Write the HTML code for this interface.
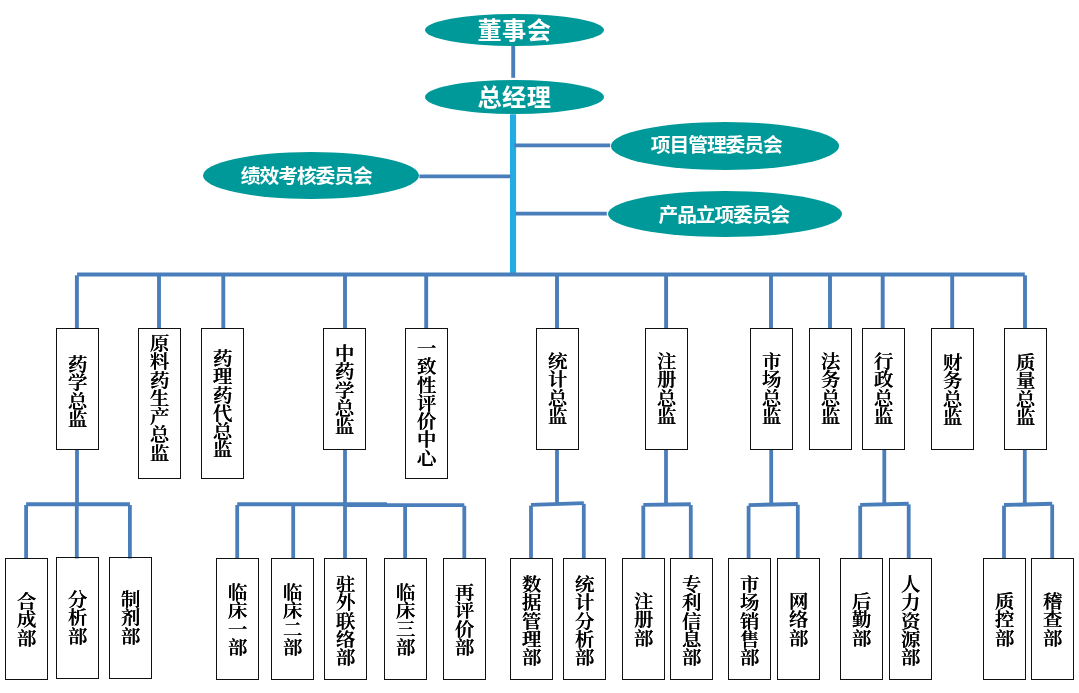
<!DOCTYPE html>
<html lang="zh-CN">
<head>
<meta charset="utf-8">
<title>组织架构图</title>
<style>
html,body{margin:0;padding:0;background:#fff;}
body{width:1079px;height:693px;position:relative;overflow:hidden;}
svg{position:absolute;left:0;top:0;}
.b{position:absolute;box-sizing:border-box;border:1px solid #111;background:transparent;will-change:transform;
 display:flex;align-items:center;justify-content:center;
 font-family:"Liberation Serif","Noto Serif CJK SC",serif;font-weight:600;font-size:18.25px;color:#000;text-shadow:0.3px 0 0 #000;}
.b span{position:relative;left:-2.8px;transform:scaleX(1.07);writing-mode:vertical-rl;text-orientation:upright;line-height:1;letter-spacing:0;white-space:nowrap;}
.e{position:absolute;display:flex;align-items:center;justify-content:center;border-radius:50%;background:#009999;
 color:#fff;font-family:"Liberation Sans","Noto Sans CJK SC",sans-serif;font-weight:700;white-space:nowrap;will-change:transform;}
.e span{position:relative;}
</style>
</head>
<body>

<svg width="1079" height="693" viewBox="0 0 1079 693">
<line x1="513.2" y1="46" x2="513.2" y2="77.8" stroke="#4A7EBB" stroke-width="3.9"/>
<line x1="513.05" y1="114.2" x2="513.05" y2="274.4" stroke="#21ADE4" stroke-width="6.1"/>
<line x1="419.4" y1="176.4" x2="510.5" y2="176.4" stroke="#4A7EBB" stroke-width="3.7"/>
<line x1="514.2" y1="145.4" x2="610.2" y2="145.4" stroke="#4A7EBB" stroke-width="3.7"/>
<line x1="515.7" y1="213.7" x2="606.8" y2="213.7" stroke="#4A7EBB" stroke-width="3.7"/>
<line x1="77.1" y1="274.4" x2="1024.8" y2="274.4" stroke="#4A7EBB" stroke-width="4"/>
<line x1="76.9" y1="275.3" x2="76.9" y2="328" stroke="#4A7EBB" stroke-width="3.9"/>
<line x1="159" y1="274.4" x2="159" y2="328" stroke="#4A7EBB" stroke-width="3.9"/>
<line x1="223.3" y1="274.4" x2="223.3" y2="328" stroke="#4A7EBB" stroke-width="3.9"/>
<line x1="345" y1="274.4" x2="345" y2="328" stroke="#4A7EBB" stroke-width="3.9"/>
<line x1="426.2" y1="274.4" x2="426.2" y2="328" stroke="#4A7EBB" stroke-width="3.9"/>
<line x1="557" y1="274.4" x2="557" y2="328" stroke="#4A7EBB" stroke-width="3.9"/>
<line x1="666.1" y1="274.4" x2="666.1" y2="328" stroke="#4A7EBB" stroke-width="3.9"/>
<line x1="771" y1="274.4" x2="771" y2="328" stroke="#4A7EBB" stroke-width="3.9"/>
<line x1="830" y1="274.4" x2="830" y2="328" stroke="#4A7EBB" stroke-width="3.9"/>
<line x1="882.7" y1="274.4" x2="882.7" y2="328" stroke="#4A7EBB" stroke-width="3.9"/>
<line x1="952.2" y1="274.4" x2="952.2" y2="328" stroke="#4A7EBB" stroke-width="3.9"/>
<line x1="1025" y1="275.3" x2="1025" y2="328" stroke="#4A7EBB" stroke-width="3.9"/>
<line x1="77" y1="449.5" x2="77" y2="505.3" stroke="#4A7EBB" stroke-width="3.8"/>
<line x1="26.1" y1="504.3" x2="129.9" y2="504.3" stroke="#4A7EBB" stroke-width="3.9"/>
<line x1="26.1" y1="505" x2="26.1" y2="558.5" stroke="#4A7EBB" stroke-width="3.8"/>
<line x1="76.8" y1="504.3" x2="76.8" y2="558.5" stroke="#4A7EBB" stroke-width="3.8"/>
<line x1="129.9" y1="505" x2="129.9" y2="558.5" stroke="#4A7EBB" stroke-width="3.8"/>
<line x1="345" y1="449.5" x2="345" y2="505.68" stroke="#4A7EBB" stroke-width="3.8"/>
<line x1="237.2" y1="504.3" x2="387" y2="504.3" stroke="#4A7EBB" stroke-width="3.9"/>
<line x1="345" y1="505.1" x2="464.3" y2="505.1" stroke="#4A7EBB" stroke-width="3.9"/>
<line x1="237.2" y1="505" x2="237.2" y2="558.5" stroke="#4A7EBB" stroke-width="3.8"/>
<line x1="293.2" y1="504.3" x2="293.2" y2="558.5" stroke="#4A7EBB" stroke-width="3.8"/>
<line x1="345" y1="504.3" x2="345" y2="558.5" stroke="#4A7EBB" stroke-width="3.8"/>
<line x1="405.1" y1="505.1" x2="405.1" y2="558.5" stroke="#4A7EBB" stroke-width="3.8"/>
<line x1="464.3" y1="505.8" x2="464.3" y2="558.5" stroke="#4A7EBB" stroke-width="3.8"/>
<line x1="557" y1="449.5" x2="557" y2="505.014" stroke="#4A7EBB" stroke-width="3.8"/>
<line x1="531" y1="504.9" x2="583.8" y2="503.1" stroke="#4A7EBB" stroke-width="3.9"/>
<line x1="531" y1="505.6" x2="531" y2="558.5" stroke="#4A7EBB" stroke-width="3.8"/>
<line x1="583.8" y1="503.8" x2="583.8" y2="558.5" stroke="#4A7EBB" stroke-width="3.8"/>
<line x1="666" y1="449.5" x2="666" y2="505.613" stroke="#4A7EBB" stroke-width="3.8"/>
<line x1="643.3" y1="504.9" x2="690.8" y2="504.3" stroke="#4A7EBB" stroke-width="3.9"/>
<line x1="643.3" y1="505.6" x2="643.3" y2="558.5" stroke="#4A7EBB" stroke-width="3.8"/>
<line x1="690.8" y1="505" x2="690.8" y2="558.5" stroke="#4A7EBB" stroke-width="3.8"/>
<line x1="771.2" y1="449.5" x2="771.2" y2="505.595" stroke="#4A7EBB" stroke-width="3.8"/>
<line x1="748.6" y1="505.1" x2="797.8" y2="504" stroke="#4A7EBB" stroke-width="3.9"/>
<line x1="748.6" y1="505.8" x2="748.6" y2="558.5" stroke="#4A7EBB" stroke-width="3.8"/>
<line x1="797.8" y1="504.7" x2="797.8" y2="558.5" stroke="#4A7EBB" stroke-width="3.8"/>
<line x1="884.3" y1="449.5" x2="884.3" y2="505.304" stroke="#4A7EBB" stroke-width="3.8"/>
<line x1="860.2" y1="504.9" x2="908.7" y2="503.7" stroke="#4A7EBB" stroke-width="3.9"/>
<line x1="860.2" y1="505.6" x2="860.2" y2="558.5" stroke="#4A7EBB" stroke-width="3.8"/>
<line x1="908.7" y1="504.4" x2="908.7" y2="558.5" stroke="#4A7EBB" stroke-width="3.8"/>
<line x1="1024.8" y1="449.5" x2="1024.8" y2="505.482" stroke="#4A7EBB" stroke-width="3.8"/>
<line x1="1004" y1="505" x2="1052.2" y2="503.8" stroke="#4A7EBB" stroke-width="3.9"/>
<line x1="1004" y1="505.7" x2="1004" y2="558.5" stroke="#4A7EBB" stroke-width="3.8"/>
<line x1="1052.2" y1="504.5" x2="1052.2" y2="558.5" stroke="#4A7EBB" stroke-width="3.8"/>
</svg>
<div class="e" style="left:424.9px;top:14.1px;width:178.5px;height:32.4px;font-size:24.2px;letter-spacing:0.5px"><span style="left:0.2px;top:-1.5px">董事会</span></div>
<div class="e" style="left:424.9px;top:79.5px;width:178.5px;height:33.8px;font-size:24.2px;letter-spacing:0.5px"><span style="left:0.2px;top:-1.5px">总经理</span></div>
<div class="e" style="left:202.7px;top:151.7px;width:215.8px;height:47.2px;font-size:19.8px;letter-spacing:-1.1px"><span style="left:-4.65px;top:-1.4px">绩效考核委员会</span></div>
<div class="e" style="left:610.65px;top:121.6px;width:228px;height:47.6px;font-size:19.8px;letter-spacing:-1.1px"><span style="left:-8.75px;top:-2px">项目管理委员会</span></div>
<div class="e" style="left:608.25px;top:191.1px;width:234px;height:46.4px;font-size:19.8px;letter-spacing:-1.1px"><span style="left:-1.15px;top:-1px">产品立项委员会</span></div>
<div class="b" style="left:56px;top:328px;width:43px;height:122px"><span style="top:2.6px">药学总监</span></div>
<div class="b" style="left:138px;top:328px;width:43px;height:151px"><span style="top:-6px">原料药生产总监</span></div>
<div class="b" style="left:201px;top:328px;width:43px;height:151px"><span style="top:0.5px">药理药代总监</span></div>
<div class="b" style="left:323px;top:328px;width:43px;height:122px"><span style="top:0.3px">中药学总监</span></div>
<div class="b" style="left:405px;top:328px;width:43px;height:151px"><span style="top:-1px">一致性评价中心</span></div>
<div class="b" style="left:536px;top:328px;width:43px;height:122px"><span style="top:-0.8px">统计总监</span></div>
<div class="b" style="left:645px;top:328px;width:43px;height:122px"><span style="top:-1px">注册总监</span></div>
<div class="b" style="left:750px;top:328px;width:43px;height:122px"><span style="top:-0.5px">市场总监</span></div>
<div class="b" style="left:809px;top:328px;width:43px;height:122px"><span style="top:-0.5px">法务总监</span></div>
<div class="b" style="left:862px;top:328px;width:43px;height:122px"><span style="top:-1px">行政总监</span></div>
<div class="b" style="left:931px;top:328px;width:43px;height:122px"><span style="top:0px">财务总监</span></div>
<div class="b" style="left:1004px;top:328px;width:43px;height:122px"><span style="top:0.5px">质量总监</span></div>
<div class="b" style="left:5px;top:558px;width:43px;height:122px"><span style="top:0.2px">合成部</span></div>
<div class="b" style="left:56px;top:557px;width:43px;height:122px"><span style="top:-0.8px">分析部</span></div>
<div class="b" style="left:109px;top:557px;width:43px;height:122px"><span style="top:-0.8px">制剂部</span></div>
<div class="b" style="left:216px;top:558px;width:43px;height:122px"><span style="top:0.2px">临床一部</span></div>
<div class="b" style="left:271px;top:558px;width:43px;height:122px"><span style="top:0.2px">临床二部</span></div>
<div class="b" style="left:324px;top:558px;width:43px;height:122px"><span style="top:1.4px">驻外联络部</span></div>
<div class="b" style="left:384px;top:558px;width:43px;height:122px"><span style="top:0.2px">临床三部</span></div>
<div class="b" style="left:443px;top:558px;width:43px;height:122px"><span style="top:0.2px">再评价部</span></div>
<div class="b" style="left:510px;top:558px;width:43px;height:122px"><span style="top:1.4px">数据管理部</span></div>
<div class="b" style="left:563px;top:558px;width:43px;height:122px"><span style="top:1.4px">统计分析部</span></div>
<div class="b" style="left:622px;top:558px;width:43px;height:122px"><span style="top:0.2px">注册部</span></div>
<div class="b" style="left:670px;top:558px;width:43px;height:122px"><span style="top:1.4px">专利信息部</span></div>
<div class="b" style="left:728px;top:558px;width:43px;height:122px"><span style="top:1.4px">市场销售部</span></div>
<div class="b" style="left:777px;top:558px;width:43px;height:122px"><span style="top:0.2px">网络部</span></div>
<div class="b" style="left:840px;top:558px;width:43px;height:122px"><span style="top:0.2px">后勤部</span></div>
<div class="b" style="left:889px;top:558px;width:43px;height:122px"><span style="top:1.4px">人力资源部</span></div>
<div class="b" style="left:983px;top:558px;width:43px;height:122px"><span style="top:0.2px">质控部</span></div>
<div class="b" style="left:1031px;top:558px;width:43px;height:122px"><span style="top:0.2px">稽查部</span></div>
</body>
</html>
